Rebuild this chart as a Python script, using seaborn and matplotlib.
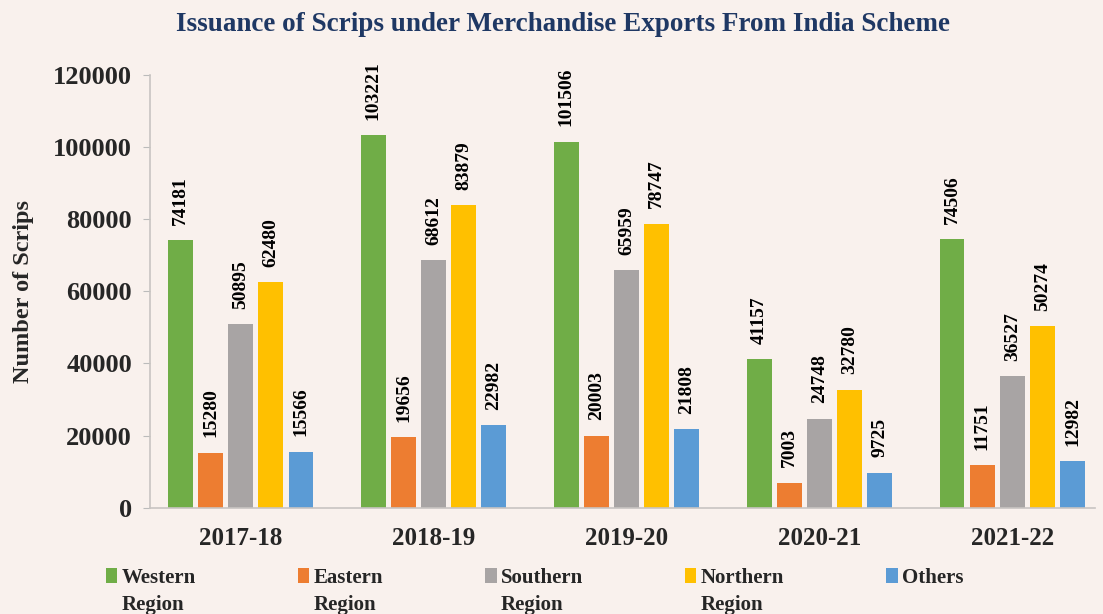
import pandas as pd
import matplotlib.pyplot as plt
import seaborn as sns

# Data
years = ['2017-18', '2018-19', '2019-20', '2020-21', '2021-22']
regions = ['Western', 'Eastern', 'Southern', 'Northern', 'Others']
western = [74181, 103221, 101506, 41157, 74506]
eastern = [15280, 19656, 20003, 7003, 11751]
southern = [50895, 68612, 65959, 24748, 36527]
northern = [62480, 83879, 78747, 32780, 50274]
others = [15566, 22982, 21808, 9725, 12982]
colors = ['#70ad47', '#ed7d31', '#a8a4a4', '#ffc000', '#5b9bd5']

# Long-format table for seaborn
rows = []
for reg, vals in zip(regions, [western, eastern, southern, northern, others]):
    for yr, v in zip(years, vals):
        rows.append({'year': yr, 'region': reg, 'scrips': v})
df = pd.DataFrame(rows)

bg = '#f9f1ed'
sns.set_style('white')
plt.rcParams['font.family'] = ['Liberation Serif', 'DejaVu Serif']
plt.rcParams['font.weight'] = 'bold'

fig = plt.figure(figsize=(11.03, 6.14), dpi=100, facecolor=bg)
ax = fig.add_axes([0.136, 0.173, 0.857, 0.705], facecolor=bg)

sns.barplot(data=df, x='year', y='scrips', hue='region', order=years,
            hue_order=regions, palette=colors, saturation=1,
            width=0.78, gap=0.18, linewidth=0, ax=ax, legend=True)

for cont in ax.containers:
    labels = ax.bar_label(cont, fmt='%d', rotation=90, padding=11,
                          fontsize=14, fontweight='bold', color='black')
    for t in labels:
        t.set_clip_on(False)

ax.set_ylim(0, 120000)
ax.set_xlim(-0.47, 4.43)
ax.set_yticks(range(0, 120001, 20000))
ax.tick_params(axis='y', labelsize=19, length=5, color='#bbbbbb', left=True, pad=8)
ax.tick_params(axis='x', labelsize=18, length=0, pad=14)
for lab in ax.get_xticklabels() + ax.get_yticklabels():
    lab.set_fontweight('bold')
ax.set_xlabel('')
ax.set_ylabel('Number of Scrips', fontsize=17.5, fontweight='bold', labelpad=14)
sns.despine(ax=ax)
for s in ['left', 'bottom']:
    ax.spines[s].set_color('#c8c4c2')
    ax.spines[s].set_linewidth(1.2)

# Legend at the bottom, "Region" added on a second line
handles, labs = ax.get_legend_handles_labels()
ax.get_legend().remove()
leg = fig.legend(handles, labs, loc='upper left', bbox_to_anchor=(0.096, 0.075),
                 ncol=5, frameon=False, fontsize=15, handlelength=0.55,
                 handleheight=0.7, handletextpad=0.2, columnspacing=4.9,
                 borderaxespad=0, borderpad=0)
for t in leg.get_texts():
    t.set_fontweight('bold')
fig.canvas.draw()
W, H = fig.bbox.width, fig.bbox.height
for t in leg.get_texts()[:4]:
    bb = t.get_window_extent()
    fig.text(bb.x0 / W, (bb.y0 - 7) / H, 'Region', fontsize=15,
             fontweight='bold', va='top', ha='left')

fig.suptitle('Issuance of Scrips under Merchandise Exports From India Scheme',
             x=0.51, y=0.98, fontsize=19.5, fontweight='bold', color='#1f3864')

fig.savefig('out.png', dpi=100, facecolor=bg)
